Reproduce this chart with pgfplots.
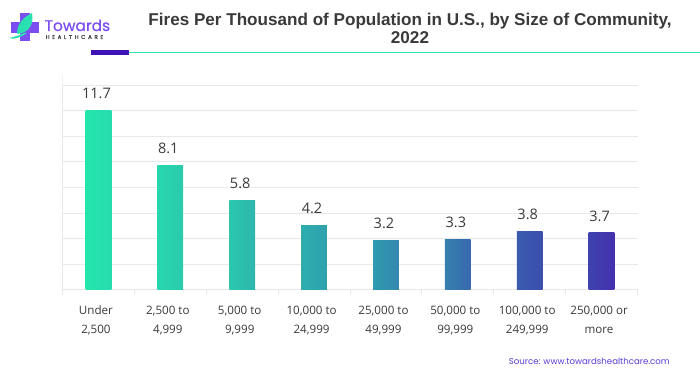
\documentclass[border=0pt]{standalone}
\usepackage{pgfplots}
\pgfplotsset{compat=1.18}
\usepackage{fontspec}
\setmainfont{Open Sans}
\newfontfamily\logofont{Poppins}
\newfontfamily\logobold[FakeBold=0.5]{Poppins}
\newfontfamily\titlefont{Liberation Sans}
\definecolor{gridc}{HTML}{E8E8E8}
\definecolor{txt}{HTML}{3A3A3C}
\definecolor{logop}{HTML}{7C4DF0}
\definecolor{logog}{HTML}{2BE0B0}
\definecolor{ruleb}{HTML}{3F12B8}
\definecolor{srcc}{HTML}{5B3BD6}
\definecolor{barA}{HTML}{24E5AC}\definecolor{barB}{HTML}{26DCAE}
\definecolor{barC}{HTML}{27D6AE}\definecolor{barD}{HTML}{2ACBAD}
\definecolor{barE}{HTML}{2BC8AD}\definecolor{barF}{HTML}{2DB5AD}
\definecolor{barG}{HTML}{2DADAD}\definecolor{barH}{HTML}{2FA1AE}
\definecolor{barI}{HTML}{2F9CAF}\definecolor{barJ}{HTML}{3387AF}
\definecolor{barK}{HTML}{3580AE}\definecolor{barL}{HTML}{3868AE}
\definecolor{barM}{HTML}{3A5CAE}\definecolor{barN}{HTML}{3C4EAE}
\definecolor{barO}{HTML}{3F42AE}\definecolor{barP}{HTML}{4530AE}
\pgfplotstableread{
x y
0 11.7
}\tA
\pgfplotstableread{
x y
1 8.1
}\tB
\pgfplotstableread{
x y
2 5.8
}\tC
\pgfplotstableread{
x y
3 4.2
}\tD
\pgfplotstableread{
x y
4 3.2
}\tE
\pgfplotstableread{
x y
5 3.3
}\tF
\pgfplotstableread{
x y
6 3.8
}\tG
\pgfplotstableread{
x y
7 3.7
}\tH
\newcommand{\g}{\hspace{2.6pt}}
\begin{document}
\begin{tikzpicture}[x=1pt,y=1pt]
\useasboundingbox (0,0) rectangle (700,375);
\fill[white] (0,0) rectangle (700,375);
% header rule
\fill[logog] (129,321.5) rectangle (700,323.2);
\fill[ruleb] (91,320.3) rectangle (129,325);
% logo
\fill[logop] (20,334) rectangle (30,362);
\fill[logop] (11,342) rectangle (39,353);
\fill[logog] (17,341) .. controls (17,352) and (24,358) .. (32,362) .. controls (34,352) and (30,342) .. (17,341);
\fill[logog] (9,337) .. controls (14,335) and (22,338) .. (27,342) -- (24,342) .. controls (18,339) and (13,338) .. (9,337);
\node[anchor=base west,inner sep=0pt,text=logop,font=\logobold\fontsize{15.4}{16}\selectfont] at (44.5,344) {Towards};
\node[anchor=base west,inner sep=0pt,text=txt,font=\logobold\fontsize{5.6}{6}\selectfont] at (45.5,336) {H\g E\g A\g L\g T\g H\g C\g A\g R\g E};
% title
\node[anchor=center,inner sep=0pt,text=txt,align=center,font=\titlefont\bfseries\fontsize{17.1}{17.5}\selectfont] at (410,346.5) {Fires Per Thousand of Population in U.S., by Size of Community,\\2022};
\node[anchor=base east,inner sep=0pt,text=srcc,font=\logofont\fontsize{8.6}{9}\selectfont] at (670,11) {Source: www.towardshealthcare.com};
\draw[gridc!60,line width=0.8pt] (62.5,290) -- (62.5,300);
\begin{axis}[
  at={(62.5pt,85.3pt)},anchor=south west,
  scale only axis,width=575pt,height=204.7pt,
  xmin=-0.5,xmax=7.5,ymin=0,ymax=13.333,
  axis x line=bottom,axis y line=left,
  axis line style={-,gridc,line width=0.8pt},
  ytick={0,1.6667,3.3333,5,6.6667,8.3333,10,11.6667,13.3333},
  yticklabels={},
  ymajorgrids,
  grid style={gridc,line width=0.8pt},
  major tick length=0pt,
  xtick={0,...,7},
  minor xtick={-0.5,0.5,1.5,2.5,3.5,4.5,5.5,6.5,7.5},
  minor tick length=5pt,
  minor tick style={gridc,line width=0.8pt},
  xticklabels={{Under\\2,500},{2,500 to\\4,999},{5,000 to\\9,999},{10,000 to\\24,999},{25,000 to\\49,999},{50,000 to\\99,999},{100,000 to\\249,999},{250,000 or\\more}},
  xticklabel style={align=center,text=txt,font=\fontsize{11.6}{19}\selectfont,yshift=-16pt,xshift=-2.5pt,inner sep=0pt},
  nodes near coords,
  every node near coord/.append style={text=txt,font=\fontsize{14.5}{15}\selectfont,yshift=8pt,xshift=-2pt},
  /pgf/number format/precision=1,/pgf/number format/fixed,/pgf/number format/fixed zerofill,
  /pgf/number format/assume math mode=true,
  ybar,bar width=25.7pt,bar shift=0pt,
  clip=false,
]
\addplot[draw=none,left color=barA,right color=barB] table[x=x,y=y] {\tA};
\addplot[draw=none,left color=barC,right color=barD] table[x=x,y=y] {\tB};
\addplot[draw=none,left color=barE,right color=barF] table[x=x,y=y] {\tC};
\addplot[draw=none,left color=barG,right color=barH] table[x=x,y=y] {\tD};
\addplot[draw=none,left color=barI,right color=barJ] table[x=x,y=y] {\tE};
\addplot[draw=none,left color=barK,right color=barL] table[x=x,y=y] {\tF};
\addplot[draw=none,left color=barM,right color=barN] table[x=x,y=y] {\tG};
\addplot[draw=none,left color=barO,right color=barP] table[x=x,y=y] {\tH};
\end{axis}
\end{tikzpicture}
\end{document}
